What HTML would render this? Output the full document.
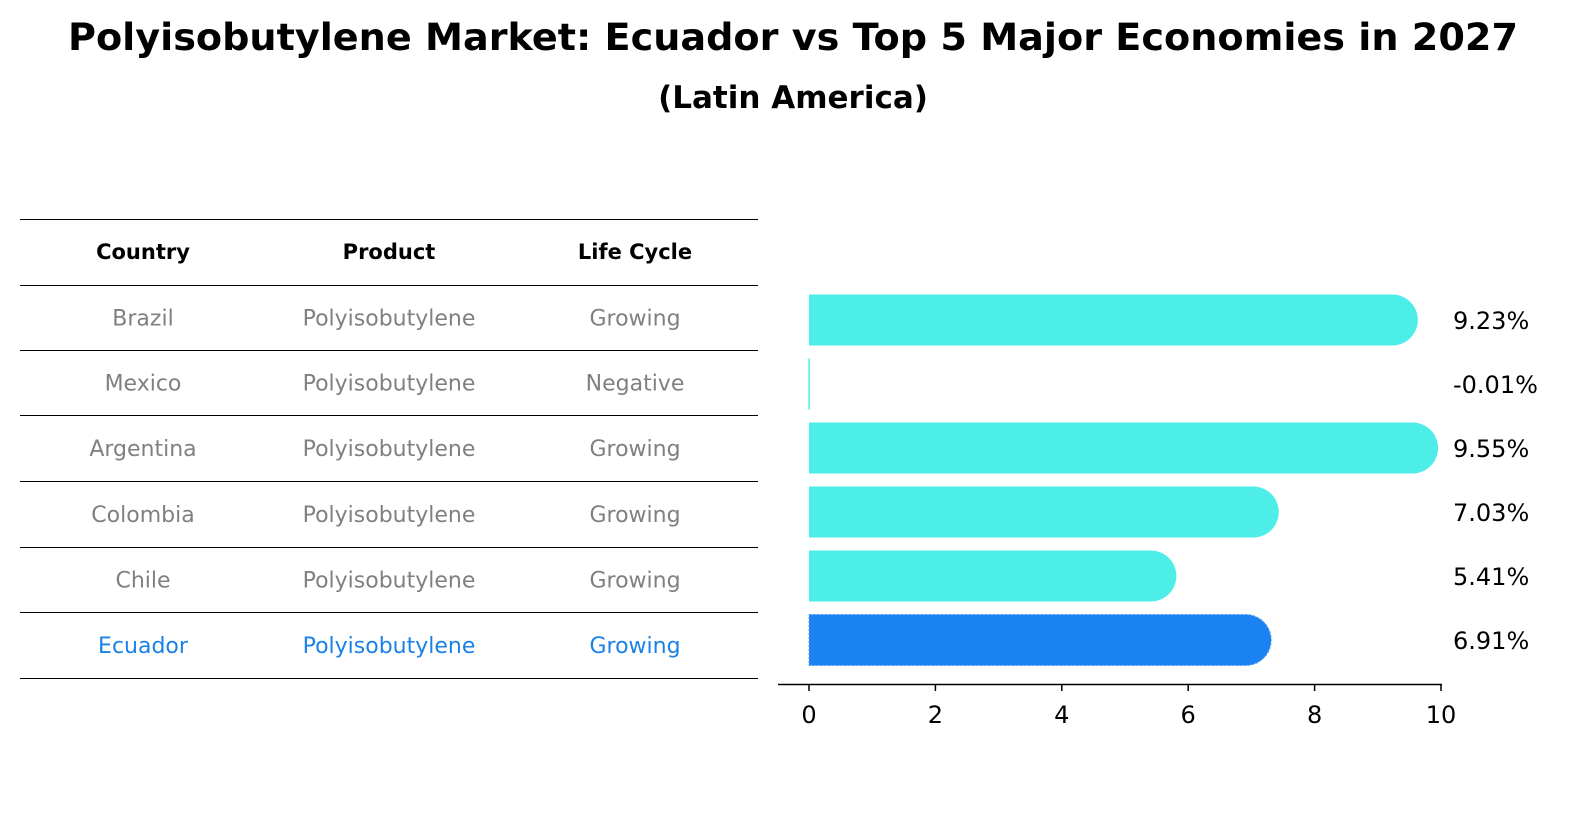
<!DOCTYPE html>
<html><head><meta charset="utf-8"><style>
body{margin:0;background:#fff;font-family:"Liberation Sans","DejaVu Sans",sans-serif;}
#wrap{position:relative;width:1596px;height:823px;overflow:hidden;}
</style></head><body>
<div id="wrap">
<svg id="svg" width="1596" height="823" xmlns="http://www.w3.org/2000/svg" style="font-family:'DejaVu Sans','Liberation Sans',sans-serif">
<text x="793" y="50" text-anchor="middle" font-size="37" font-weight="bold" textLength="1450" lengthAdjust="spacingAndGlyphs">Polyisobutylene Market: Ecuador vs Top 5 Major Economies in 2027</text>
<text x="793" y="108" text-anchor="middle" font-size="31" font-weight="bold">(Latin America)</text>
<g id="table"></g>
<g id="bars"></g>
</svg>
</div>
<script>
const countries=["Brazil","Mexico","Argentina","Colombia","Chile","Ecuador"];
const products=["Polyisobutylene","Polyisobutylene","Polyisobutylene","Polyisobutylene","Polyisobutylene","Polyisobutylene"];
const lifeCycles=["Growing","Negative","Growing","Growing","Growing","Growing"];
const growth=[9.23,-0.01,9.55,7.03,5.41,6.91];
const ticks=[0,2,4,6,8,10];
const NS="http://www.w3.org/2000/svg";
function mk(tag,attrs,parent,text){const e=document.createElementNS(NS,tag);for(const k in attrs)e.setAttribute(k,attrs[k]);if(text!==undefined)e.textContent=text;parent.appendChild(e);return e;}
const tbl=document.getElementById('table');
const lineYs=[219,285,350,415,481,547,612,678];
lineYs.forEach(y=>{const l=mk('line',{x1:20,x2:758,y1:y+0.5,y2:y+0.5,stroke:'#000','stroke-width':1},tbl);

});
const colX=[143,389,635];
["Country","Product","Life Cycle"].forEach((h,i)=>{const t=mk('text',{x:colX[i],y:259,'text-anchor':'middle','font-size':21,'font-weight':'bold'},tbl,h);

});
countries.forEach((c,r)=>{const y=(lineYs[r+1]+lineYs[r+2])/2+8;const col=c==="Ecuador"?"#1a82e6":"#808080";
[c,products[r],lifeCycles[r]].forEach((v,i)=>{const t=mk('text',{x:colX[i],y:y,'text-anchor':'middle','font-size':22,fill:col},tbl,v);

});});
const bars=document.getElementById('bars');
const x0=809,pxPer=63.2;const xs=v=>x0+v*pxPer;
const yc=r=>320+r*64;const bh=51,rad=25.5;
growth.forEach((v,r)=>{const isE=countries[r]==="Ecuador";const col=isE?"#1a82f2":"#4deee8";
const xe=xs(v),y=yc(r)-bh/2;let p;
if(v<=0){p=mk('rect',{x:Math.min(xe,x0),y:y,width:Math.max(1.5,Math.abs(xe-x0)),height:bh,fill:col},bars);}
else{p=mk('path',{d:`M${x0},${y}H${xe}A${rad},${rad} 0 0 1 ${xe},${y+bh}H${x0}Z`,fill:col},bars);
if(isE){p.setAttribute('stroke','#5aa0e8');p.setAttribute('stroke-dasharray','2,2');}}


const t=mk('text',{x:1453,y:yc(r)+9,'font-size':24},bars,v.toFixed(2)+'%');

});
const ax=mk('line',{x1:778,x2:1442,y1:684.5,y2:684.5,stroke:'#000','stroke-width':1.5},bars);


ticks.forEach(t=>{const tk=mk('line',{x1:xs(t),x2:xs(t),y1:684,y2:691,stroke:'#000','stroke-width':1.5},bars);


const lb=mk('text',{x:xs(t),y:723,'text-anchor':'middle','font-size':24},bars,String(t));

});
</script>
</body></html>
